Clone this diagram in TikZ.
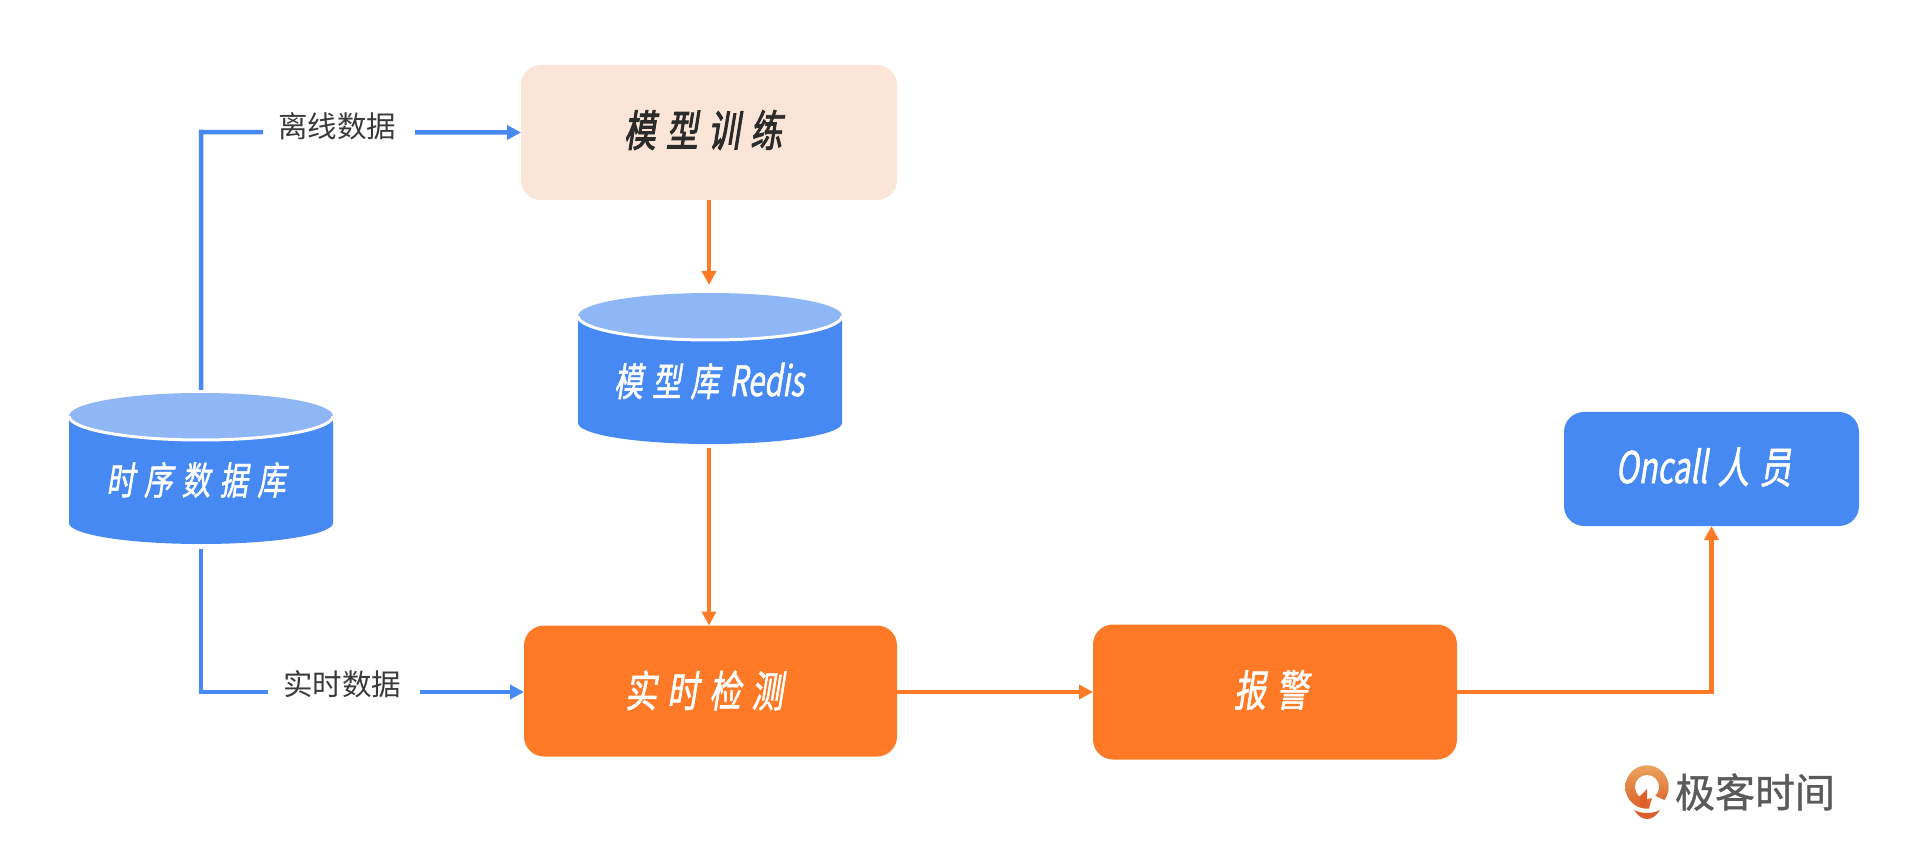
\documentclass[tikz,border=0pt]{standalone}
\usepackage{fontspec}
\usetikzlibrary{arrows.meta,positioning}
\newfontfamily\boxfont[FakeSlant=0.16,FakeStretch=0.74,LetterSpace=24,FakeBold=1.2]{Noto Sans CJK SC}
\newfontfamily\boxboldfont[FakeSlant=0.16,FakeStretch=0.74,LetterSpace=24,FakeBold=2.0]{Noto Sans CJK SC}
\newfontfamily\latinfont[FakeSlant=0.16,FakeStretch=0.70,FakeBold=1.0]{Noto Sans CJK SC}
\newfontfamily\labelfont{Noto Sans CJK SC}
\newfontfamily\brandfont[FakeBold=0.9]{Noto Sans CJK SC}
\definecolor{dbblue}{HTML}{4689F2}
\definecolor{dbtop}{HTML}{8FB6F5}
\definecolor{peach}{HTML}{FBE5D8}
\definecolor{flame}{HTML}{FE7A27}
\definecolor{ink}{HTML}{2B2B2B}
\definecolor{labelink}{HTML}{3A3A3A}
\definecolor{brandgray}{HTML}{5A5A5A}
\definecolor{brandhi}{HTML}{E9A45E}
\definecolor{brandlo}{HTML}{DC5F2A}
\tikzset{
  x=1pt, y=-1pt,
  flowbox/.style={rectangle, rounded corners=20pt, inner sep=0pt, outer sep=0pt},
  dbslot/.style={rectangle, inner sep=0pt, outer sep=0pt, minimum width=264pt, minimum height=152pt},
  caption/.style={inner sep=0pt, outer sep=0pt},
  blueflow/.style={draw=dbblue, line width=4.5pt, -{Triangle[length=14pt,width=14pt]}},
  orangeflow/.style={draw=flame, line width=4.5pt, -{Triangle[length=14pt,width=14pt]}},
  gapmask/.style={fill=white, inner sep=0pt, minimum width=152pt, minimum height=44pt},
}
% Database cylinder: body, then a lighter lid with a white rim along its front edge
\newcommand{\dbcylinder}[2]{%
  \fill[dbblue] (#1-132,#2+24) -- (#1-132,#2+130) arc[start angle=180, end angle=360, x radius=132, y radius=-21]
     -- (#1+132,#2+24) -- cycle;
  \fill[dbtop] (#1,#2+23) ellipse[x radius=132, y radius=23];
  \draw[white, line width=3pt] (#1-132,#2+23) arc[start angle=180, end angle=360, x radius=132, y radius=-24];
}
\begin{document}
\begin{tikzpicture}
\useasboundingbox[fill=white] (0,0) rectangle (1920,858);

% database cylinders
\dbcylinder{201}{393}
\dbcylinder{710}{293}
\node[dbslot] (tsdb) at (201,469) {};
\node[dbslot] (redis) at (710,369) {};
\node[caption, text=white] (tsdbtext) at (196,480) {\fontsize{38.5}{44}\boxfont 时序数据库};
\node[caption, text=white] (redistext) at (709,381) {\fontsize{39}{44}\boxfont 模型库\hspace{10pt}\fontsize{42}{44}\latinfont Redis};

% process boxes
\node[flowbox, fill=peach, minimum width=376pt, minimum height=135pt] (train) at (709,132.5) {};
\node[flowbox, fill=flame, minimum width=373pt, minimum height=131pt] (detect) at (710.5,691) {};
\node[flowbox, fill=flame, minimum width=364pt, minimum height=135pt] (alarm) at (1275,692) {};
\node[flowbox, fill=dbblue, minimum width=295pt, minimum height=114pt] (oncall) at (1711.5,469) {};
\node[caption, text=ink] (traintext) at (703,130) {\fontsize{43}{48}\boxboldfont 模型训练};
\node[caption, text=white] (detecttext) at (704,690.5) {\fontsize{43}{48}\boxfont 实时检测};
\node[caption, text=white] (alarmtext) at (1271,690) {\fontsize{43}{48}\boxfont 报警};
\node[caption, text=white] (oncalltext) at (1703.5,467) {\fontsize{44}{48}\latinfont Oncall\hspace{10pt}\fontsize{43}{48}\boxfont 人员};

% offline and realtime feeds
\draw[blueflow] ([yshift=3pt]tsdb.north) -- (201,132) -- (train.west);
\node[gapmask] (offline) at (339,132) {};
\node[caption, text=labelink] (offlinetext) at (337,126) {\fontsize{29.5}{34}\labelfont 离线数据};
\draw[blueflow] ([yshift=-4pt]tsdb.south) -- (201,692) -- (detect.west |- 0,692);
\node[gapmask] (realtime) at (344,692) {};
\node[caption, text=labelink] (realtimetext) at (342,684.5) {\fontsize{29.5}{34}\labelfont 实时数据};

% orange pipeline
\draw[orangeflow, shorten >=8pt] (train.south) -- (redis.north -| train.south);
\draw[orangeflow, shorten <=3pt] (redis.south -| train.south) -- (detect.north -| train.south);
\draw[orangeflow] (detect.east |- alarm.west) -- (alarm.west);
\draw[orangeflow] (alarm.east) -| (oncall.south);

% brand mark and wordmark
\shade[top color=brandhi, bottom color=brandlo] (1647,787) circle[radius=21.7];
\fill[white] (1647,787) circle[radius=12];
\fill[white] (1653,795) -- (1664,800) -- (1662,812) -- (1648,812) -- cycle;
\fill[brandlo] (1640,796) -- (1647,789) -- (1647,806) -- (1640,807) -- cycle;
\fill[brandlo] (1634,810) .. controls (1642,814) and (1652,814) .. (1660,810)
   .. controls (1656,816) and (1652,819) .. (1647,819) .. controls (1642,819) and (1638,816) .. (1634,810) -- cycle;
\node[caption, text=brandgray] (brand) at (1755,792) {\fontsize{40}{44}\brandfont 极客时间};

\end{tikzpicture}
\end{document}
